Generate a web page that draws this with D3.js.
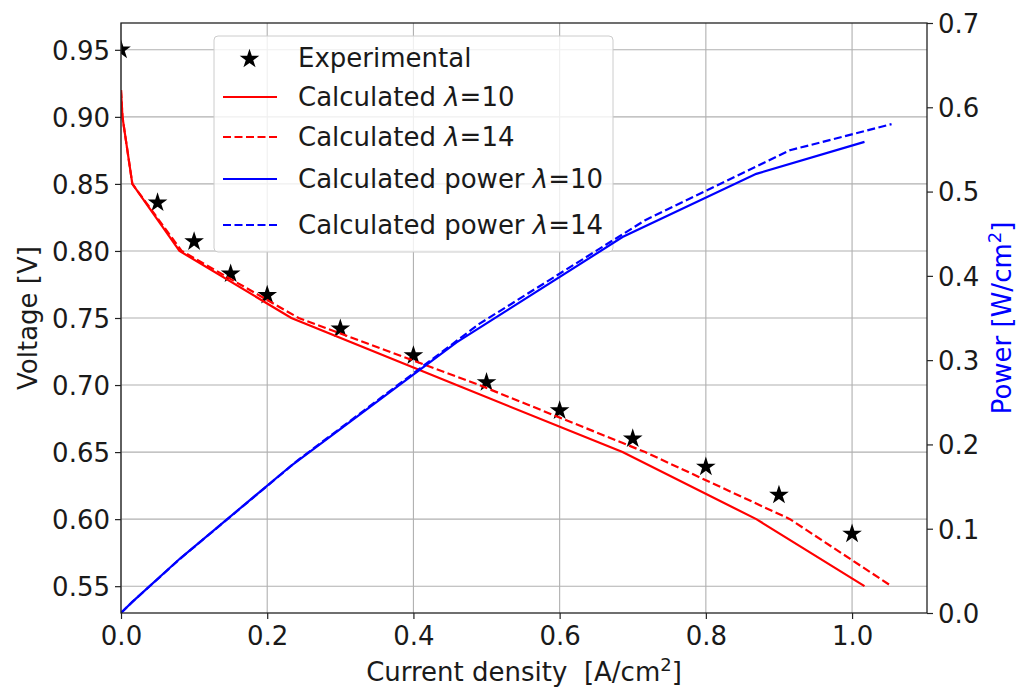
<!DOCTYPE html>
<html>
<head>
<meta charset="utf-8">
<script src="https://cdn.jsdelivr.net/npm/d3@7"></script>
<style>
  html, body { margin: 0; padding: 0; background: #fff; }
  svg { display: block; }
  text { font-family: "DejaVu Sans", sans-serif; fill: #1a1a1a; }
</style>
</head>
<body>
<svg id="chart" width="1024" height="688"></svg>
<script>
// ---- data ----
const expCurrent = [0, 0.05, 0.1, 0.15, 0.2, 0.3, 0.4, 0.5, 0.6, 0.7, 0.8, 0.9, 1.0];
const expVoltage = [0.95, 0.836, 0.807, 0.783, 0.767, 0.742, 0.722, 0.702, 0.681, 0.660, 0.639, 0.618, 0.589];

const calcVoltage = [0.92, 0.90, 0.85, 0.80, 0.75, 0.70, 0.65, 0.60, 0.55];
const current10 = [0, 0.002, 0.0155, 0.080, 0.233, 0.459, 0.686, 0.869, 1.017];
const current14 = [0, 0.002, 0.0155, 0.083, 0.243, 0.490, 0.717, 0.915, 1.054];
const power10 = [0, 0.0018, 0.0132, 0.064, 0.175, 0.321, 0.446, 0.521, 0.559];
const power14 = [0, 0.0018, 0.0132, 0.066, 0.182, 0.343, 0.466, 0.549, 0.580];

const xTicks = [0.0, 0.2, 0.4, 0.6, 0.8, 1.0];
const yLeftTicks = [0.55, 0.60, 0.65, 0.70, 0.75, 0.80, 0.85, 0.90, 0.95];
const yRightTicks = [0.0, 0.1, 0.2, 0.3, 0.4, 0.5, 0.6, 0.7];

const legendLabels = [
  {pre: "Experimental", lam: null, post: ""},
  {pre: "Calculated ", lam: "λ", post: "=10"},
  {pre: "Calculated ", lam: "λ", post: "=14"},
  {pre: "Calculated power ", lam: "λ", post: "=10"},
  {pre: "Calculated power ", lam: "λ", post: "=14"}
];

// ---- layout ----
const L = 121, R = 927, T = 23, B = 613;
const FS = 26, FSUP = 18;
const svg = d3.select("#chart");

const x = d3.scaleLinear().domain([0, 1.1025]).range([L, R]);
const yL = d3.scaleLinear().domain([0.53, 0.97]).range([B, T]);
const yR = d3.scaleLinear().domain([0, 0.7]).range([B, T]);

svg.append("defs").append("clipPath").attr("id", "clip")
  .append("rect").attr("x", L).attr("y", T).attr("width", R - L).attr("height", B - T);

// grid
const grid = svg.append("g").attr("stroke", "#b0b0b0").attr("stroke-width", 1.1);
grid.selectAll("line.vx").data(xTicks).enter().append("line")
  .attr("x1", d => x(d)).attr("x2", d => x(d)).attr("y1", T).attr("y2", B);
grid.selectAll("line.hy").data(yLeftTicks).enter().append("line")
  .attr("x1", L).attr("x2", R).attr("y1", d => yL(d)).attr("y2", d => yL(d));

const plot = svg.append("g").attr("clip-path", "url(#clip)");

const lineV10 = d3.line().x((d, i) => x(current10[i])).y(d => yL(d));
const lineV14 = d3.line().x((d, i) => x(current14[i])).y(d => yL(d));
const lineP10 = d3.line().x((d, i) => x(current10[i])).y(d => yR(d));
const lineP14 = d3.line().x((d, i) => x(current14[i])).y(d => yR(d));

const LW = 2.2, DASH = "8,3.5";

// stars
const star = d3.symbol().type(d3.symbolStar).size(120);
plot.selectAll("path.star").data(expVoltage).enter().append("path")
  .attr("d", star)
  .attr("transform", (d, i) => `translate(${x(expCurrent[i])},${yL(d)})`)
  .attr("fill", "#000");

plot.append("path").attr("d", lineV10(calcVoltage)).attr("fill", "none")
  .attr("stroke", "#ff0000").attr("stroke-width", LW);
plot.append("path").attr("d", lineV14(calcVoltage)).attr("fill", "none")
  .attr("stroke", "#ff0000").attr("stroke-width", LW).attr("stroke-dasharray", DASH);

// legend (belongs to the left axes, under the power lines)
const lg = svg.append("g");
lg.append("rect").attr("x", 214).attr("y", 36).attr("width", 399).attr("height", 216)
  .attr("rx", 4).attr("fill", "#fff").attr("fill-opacity", 0.8)
  .attr("stroke", "#cccccc").attr("stroke-width", 1);
const handleY = [59, 97, 137, 179, 225];
const textY = [67, 106, 146, 188, 234];
const handleStyles = [
  null,
  {c: "#ff0000", dash: null},
  {c: "#ff0000", dash: DASH},
  {c: "#0000ff", dash: null},
  {c: "#0000ff", dash: DASH}
];
legendLabels.forEach((lab, i) => {
  const hs = handleStyles[i];
  if (hs === null) {
    lg.append("path").attr("d", star).attr("transform", `translate(249.5,${handleY[i]})`).attr("fill", "#000");
  } else {
    lg.append("line").attr("x1", 223).attr("x2", 277).attr("y1", handleY[i]).attr("y2", handleY[i])
      .attr("stroke", hs.c).attr("stroke-width", LW).attr("stroke-dasharray", hs.dash);
  }
  const t = lg.append("text").attr("x", 298).attr("y", textY[i]).attr("font-size", FS);
  t.append("tspan").text(lab.pre);
  if (lab.lam) {
    t.append("tspan").attr("font-style", "italic").text(lab.lam);
    t.append("tspan").text(lab.post);
  }
});

// power lines (twin axes, on top)
const plot2 = svg.append("g").attr("clip-path", "url(#clip)");
plot2.append("path").attr("d", lineP10(power10)).attr("fill", "none")
  .attr("stroke", "#0000ff").attr("stroke-width", LW);
plot2.append("path").attr("d", lineP14(power14)).attr("fill", "none")
  .attr("stroke", "#0000ff").attr("stroke-width", LW).attr("stroke-dasharray", DASH);

// axes
const axColor = "#222";
const xAxis = svg.append("g").attr("transform", `translate(0,${B})`)
  .call(d3.axisBottom(x).tickValues(xTicks).tickFormat(d3.format(".1f")).tickSize(6).tickPadding(6));
const yAxisL = svg.append("g").attr("transform", `translate(${L},0)`)
  .call(d3.axisLeft(yL).tickValues(yLeftTicks).tickFormat(d3.format(".2f")).tickSize(6).tickPadding(5));
const yAxisR = svg.append("g").attr("transform", `translate(${R},0)`)
  .call(d3.axisRight(yR).tickValues(yRightTicks).tickFormat(d3.format(".1f")).tickSize(6).tickPadding(5));

[xAxis, yAxisL, yAxisR].forEach(g => {
  g.select(".domain").remove();
  g.selectAll(".tick line").attr("stroke", axColor).attr("stroke-width", 1.2);
  g.selectAll(".tick text").attr("font-size", FS).attr("font-family", "DejaVu Sans").attr("fill", "#1a1a1a");
});
xAxis.selectAll(".tick text").attr("dy", null).attr("y", 32);
yAxisL.selectAll(".tick text").attr("dy", "0.36em");
yAxisR.selectAll(".tick text").attr("dy", "0.36em");

// frame
svg.append("rect").attr("x", L).attr("y", T).attr("width", R - L).attr("height", B - T)
  .attr("fill", "none").attr("stroke", axColor).attr("stroke-width", 1.3);

// axis labels
const xl = svg.append("text").attr("x", (L + R) / 2).attr("y", 681).attr("text-anchor", "middle").attr("font-size", FS);
xl.append("tspan").text("Current density\u00a0\u00a0[A/cm");
xl.append("tspan").attr("font-size", FSUP).attr("dy", -10).text("2");
xl.append("tspan").attr("dy", 10).text("]");

svg.append("text").attr("transform", `translate(37,${(T + B) / 2}) rotate(-90)`)
  .attr("text-anchor", "middle").attr("font-size", FS).text("Voltage [V]");

const pl = svg.append("text").attr("transform", `translate(1011,${(T + B) / 2}) rotate(-90)`)
  .attr("text-anchor", "middle").attr("font-size", FS).style("fill", "#0000ff");
pl.append("tspan").text("Power [W/cm");
pl.append("tspan").attr("font-size", FSUP).attr("dy", -10).text("2");
pl.append("tspan").attr("dy", 10).text("]");
</script>
</body>
</html>
